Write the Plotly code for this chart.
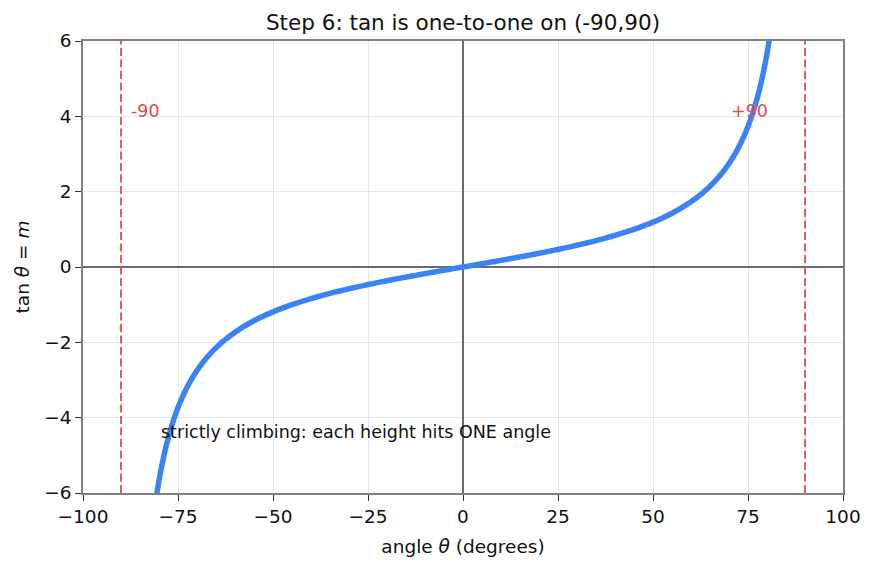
import plotly.graph_objects as go

# angle (degrees) and tan values
angles = [-82, -81, -80, -79, -78, -77, -76, -75, -74, -73, -72, -71, -70, -69, -68, -67, -66,
          -65, -64, -63, -62, -61, -60, -57.5, -55, -52.5, -50, -47.5, -45, -42.5, -40, -37.5,
          -35, -32.5, -30, -27.5, -25, -22.5, -20, -17.5, -15, -12.5, -10, -7.5, -5, -2.5,
          0, 2.5, 5, 7.5, 10, 12.5, 15, 17.5, 20, 22.5, 25, 27.5, 30, 32.5, 35, 37.5, 40,
          42.5, 45, 47.5, 50, 52.5, 55, 57.5, 60, 61, 62, 63, 64, 65, 66, 67, 68, 69, 70,
          71, 72, 73, 74, 75, 76, 77, 78, 79, 80, 81, 82]
tan_vals = [-7.1154, -6.3138, -5.6713, -5.1446, -4.7046, -4.3315, -4.0108, -3.7321, -3.4874,
            -3.2709, -3.0777, -2.9042, -2.7475, -2.6051, -2.4751, -2.3559, -2.2460, -2.1445,
            -2.0503, -1.9626, -1.8807, -1.8040, -1.7321, -1.5697, -1.4281, -1.3032, -1.1918,
            -1.0913, -1.0, -0.9163, -0.8391, -0.7673, -0.7002, -0.6371, -0.5774, -0.5206,
            -0.4663, -0.4142, -0.3640, -0.3153, -0.2679, -0.2217, -0.1763, -0.1317, -0.0875,
            -0.0437, 0.0, 0.0437, 0.0875, 0.1317, 0.1763, 0.2217, 0.2679, 0.3153, 0.3640,
            0.4142, 0.4663, 0.5206, 0.5774, 0.6371, 0.7002, 0.7673, 0.8391, 0.9163, 1.0,
            1.0913, 1.1918, 1.3032, 1.4281, 1.5697, 1.7321, 1.8040, 1.8807, 1.9626, 2.0503,
            2.1445, 2.2460, 2.3559, 2.4751, 2.6051, 2.7475, 2.9042, 3.0777, 3.2709, 3.4874,
            3.7321, 4.0108, 4.3315, 4.7046, 5.1446, 5.6713, 6.3138, 7.1154]
asymptotes = [-90, 90]
asym_labels = ["-90", "+90"]
asym_label_x = [-88, 70]
asym_label_y = 4.14
note_text = "strictly climbing: each height hits ONE angle"
note_x, note_y = -80, -4.38
x_ticks = [-100, -75, -50, -25, 0, 25, 50, 75, 100]
y_ticks = [-6, -4, -2, 0, 2, 4, 6]

BLUE = "#3b82f6"
RED = "#e5484d"
FONT = "DejaVu Sans"

fig = go.Figure()
fig.add_trace(go.Scatter(x=angles, y=tan_vals, mode="lines",
                         line=dict(color=BLUE, width=5.5, shape="spline", smoothing=0.6),
                         showlegend=False, hoverinfo="skip"))

for a in asymptotes:
    fig.add_shape(type="line", xref="x", yref="paper", x0=a, x1=a, y0=0, y1=1,
                  line=dict(color=RED, width=1.8, dash="8px,3.5px"), layer="above")

for lab, lx in zip(asym_labels, asym_label_x):
    fig.add_annotation(x=lx, y=asym_label_y, text=lab, showarrow=False,
                       xanchor="left", yanchor="middle",
                       font=dict(family=FONT, size=17.5, color=RED))

fig.add_annotation(x=note_x, y=note_y, text=note_text, showarrow=False,
                   xanchor="left", yanchor="middle",
                   font=dict(family=FONT, size=17.5, color="#111111"))

axis_common = dict(
    showline=True, linecolor="#808080", linewidth=1.6, mirror=True,
    ticks="outside", ticklen=6, tickwidth=1.4, tickcolor="#333333",
    showgrid=True, gridcolor="#e3e7ec", gridwidth=1,
    zeroline=True, zerolinecolor="#6b6b6b", zerolinewidth=1.8,
    tickfont=dict(family=FONT, size=18.5, color="#111111"),
)

fig.update_xaxes(range=[-100, 100], tickvals=x_ticks,
                 title=dict(text="angle <i>θ</i> (degrees)",
                            font=dict(family=FONT, size=18.5, color="#111111"),
                            standoff=14),
                 **axis_common)
fig.update_yaxes(range=[-6, 6], tickvals=y_ticks,
                 title=dict(text="tan <i>θ</i> = <i>m</i>",
                            font=dict(family=FONT, size=18.5, color="#111111"),
                            standoff=10),
                 **axis_common)

fig.update_layout(
    width=875, height=571,
    margin=dict(l=83, r=32, t=41, b=78, autoexpand=False),
    paper_bgcolor="white", plot_bgcolor="white",
    title=dict(text="Step 6: tan is one-to-one on (-90,90)",
               font=dict(family=FONT, size=21.5, color="#111111"),
               x=0.5, xref="paper", xanchor="center",
               y=1 - 22 / 571, yref="container", yanchor="middle"),
)

fig.write_html("out.html")
